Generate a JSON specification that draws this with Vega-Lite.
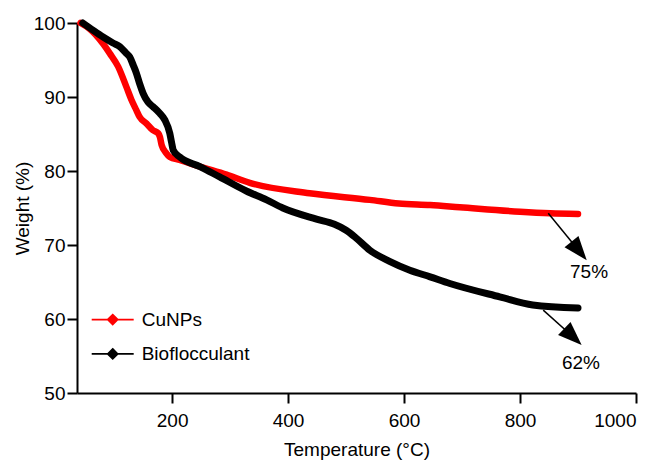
{
  "$schema": "https://vega.github.io/schema/vega-lite/v6.json",
  "width": 559,
  "height": 370,
  "autosize": "none",
  "padding": {"left": 77, "top": 23, "right": 22, "bottom": 67},
  "background": "white",
  "config": {
    "view": {"stroke": null},
    "font": "Liberation Sans",
    "axis": {
      "domainColor": "black",
      "domainWidth": 2,
      "tickColor": "black",
      "tickWidth": 2,
      "tickSize": 10,
      "grid": false,
      "labelColor": "black",
      "labelFontSize": 19,
      "titleColor": "black",
      "titleFontSize": 19,
      "titleFontWeight": "normal"
    }
  },
  "datasets": {
    "tga": [
      {"series": "CuNPs", "T": 42, "W": 100},
      {"series": "CuNPs", "T": 58, "W": 99.2},
      {"series": "CuNPs", "T": 81, "W": 97.2},
      {"series": "CuNPs", "T": 92.5, "W": 95.9},
      {"series": "CuNPs", "T": 107, "W": 94.1},
      {"series": "CuNPs", "T": 121, "W": 91.4},
      {"series": "CuNPs", "T": 130, "W": 89.6},
      {"series": "CuNPs", "T": 138.5, "W": 88.2},
      {"series": "CuNPs", "T": 144, "W": 87.3},
      {"series": "CuNPs", "T": 156, "W": 86.4},
      {"series": "CuNPs", "T": 167, "W": 85.5},
      {"series": "CuNPs", "T": 176, "W": 85.1},
      {"series": "CuNPs", "T": 179, "W": 84.6},
      {"series": "CuNPs", "T": 182, "W": 83.5},
      {"series": "CuNPs", "T": 190, "W": 82.4},
      {"series": "CuNPs", "T": 196, "W": 81.9},
      {"series": "CuNPs", "T": 213, "W": 81.5},
      {"series": "CuNPs", "T": 248, "W": 80.6},
      {"series": "CuNPs", "T": 294, "W": 79.5},
      {"series": "CuNPs", "T": 334, "W": 78.4},
      {"series": "CuNPs", "T": 437, "W": 77.0},
      {"series": "CuNPs", "T": 541, "W": 76.1},
      {"series": "CuNPs", "T": 591, "W": 75.6},
      {"series": "CuNPs", "T": 645, "W": 75.4},
      {"series": "CuNPs", "T": 696, "W": 75.1},
      {"series": "CuNPs", "T": 800, "W": 74.5},
      {"series": "CuNPs", "T": 852, "W": 74.3},
      {"series": "CuNPs", "T": 900, "W": 74.2},
      {"series": "Bioflocculant", "T": 46, "W": 100},
      {"series": "Bioflocculant", "T": 64, "W": 99.0},
      {"series": "Bioflocculant", "T": 81, "W": 98.1},
      {"series": "Bioflocculant", "T": 98, "W": 97.3},
      {"series": "Bioflocculant", "T": 110, "W": 96.8},
      {"series": "Bioflocculant", "T": 121, "W": 95.9},
      {"series": "Bioflocculant", "T": 127, "W": 95.4},
      {"series": "Bioflocculant", "T": 133, "W": 94.3},
      {"series": "Bioflocculant", "T": 138.5, "W": 93.2},
      {"series": "Bioflocculant", "T": 144, "W": 91.8},
      {"series": "Bioflocculant", "T": 150, "W": 90.5},
      {"series": "Bioflocculant", "T": 158.6, "W": 89.3},
      {"series": "Bioflocculant", "T": 167, "W": 88.7},
      {"series": "Bioflocculant", "T": 178.7, "W": 87.8},
      {"series": "Bioflocculant", "T": 187.4, "W": 86.9},
      {"series": "Bioflocculant", "T": 196, "W": 85.1},
      {"series": "Bioflocculant", "T": 199, "W": 83.9},
      {"series": "Bioflocculant", "T": 202, "W": 82.8},
      {"series": "Bioflocculant", "T": 213, "W": 81.9},
      {"series": "Bioflocculant", "T": 248, "W": 80.6},
      {"series": "Bioflocculant", "T": 282, "W": 79.2},
      {"series": "Bioflocculant", "T": 328, "W": 77.3},
      {"series": "Bioflocculant", "T": 363, "W": 76.1},
      {"series": "Bioflocculant", "T": 391, "W": 75.0},
      {"series": "Bioflocculant", "T": 449, "W": 73.5},
      {"series": "Bioflocculant", "T": 480, "W": 72.8},
      {"series": "Bioflocculant", "T": 500, "W": 72.0},
      {"series": "Bioflocculant", "T": 518, "W": 70.9},
      {"series": "Bioflocculant", "T": 541, "W": 69.3},
      {"series": "Bioflocculant", "T": 575, "W": 67.8},
      {"series": "Bioflocculant", "T": 610, "W": 66.6},
      {"series": "Bioflocculant", "T": 645, "W": 65.7},
      {"series": "Bioflocculant", "T": 679, "W": 64.8},
      {"series": "Bioflocculant", "T": 765, "W": 63.0},
      {"series": "Bioflocculant", "T": 822, "W": 61.9},
      {"series": "Bioflocculant", "T": 900, "W": 61.5}
    ],
    "arrows": [
      {"key": "CuNPs", "T": 848.7, "W": 74.3, "T2": 901.9, "W2": 69.2, "labelT": 919, "labelW": 66.3, "label": "75%"},
      {"key": "Bioflocculant", "T": 840, "W": 61.2, "T2": 891.3, "W2": 57.6, "labelT": 905, "labelW": 54.1, "label": "62%"}
    ]
  },
  "encoding": {
    "x": {
      "field": "T",
      "type": "quantitative",
      "scale": {"domain": [36, 1000], "nice": false, "zero": false},
      "axis": {"title": "Temperature (°C)", "values": [200, 400, 600, 800, 1000], "format": "d", "labelPadding": 8, "titlePadding": 10}
    },
    "y": {
      "field": "W",
      "type": "quantitative",
      "scale": {"domain": [50, 100], "nice": false, "zero": false},
      "axis": {"title": "Weight (%)", "values": [50, 60, 70, 80, 90, 100], "labelPadding": 2, "titlePadding": 1}
    }
  },
  "layer": [
    {
      "data": {"name": "tga"},
      "transform": [{"filter": "datum.series === 'CuNPs'"}],
      "mark": {"type": "line", "strokeWidth": 6.5, "strokeCap": "round", "strokeJoin": "round", "interpolate": "monotone"},
      "encoding": {
        "color": {
          "field": "series",
          "type": "nominal",
          "scale": {"domain": ["CuNPs", "Bioflocculant"], "range": ["#ff0000", "#000000"]},
          "legend": {
            "title": null,
            "orient": "none",
            "legendX": 24.7,
            "legendY": 285.6,
            "padding": 0,
            "symbolType": "M-2.1,0L2.1,0M0,-0.5L0.5,0L0,0.5L-0.5,0Z",
            "symbolSize": 400,
            "symbolStrokeWidth": 1.7,
            "labelFontSize": 19,
            "labelColor": "black",
            "labelOffset": 18,
            "rowPadding": 13.3,
            "encode": {
              "symbols": {
                "update": {
                  "fill": {"scale": "color", "field": "value"},
                  "stroke": {"scale": "color", "field": "value"},
                  "opacity": {"value": 1}
                }
              }
            }
          }
        }
      }
    },
    {
      "data": {"name": "tga"},
      "transform": [{"filter": "datum.series === 'Bioflocculant'"}],
      "mark": {"type": "line", "strokeWidth": 7, "strokeCap": "round", "strokeJoin": "round", "interpolate": "monotone"},
      "encoding": {
        "color": {"field": "series", "type": "nominal"}
      }
    },
    {
      "data": {"name": "arrows"},
      "mark": {"type": "rule", "color": "black", "strokeWidth": 1.5},
      "encoding": {
        "x2": {"field": "T2"},
        "y2": {"field": "W2"}
      }
    },
    {
      "data": {"name": "arrows"},
      "transform": [{"filter": "datum.key === 'CuNPs'"}],
      "mark": {"type": "point", "shape": "M0,-1L0.75,1L-0.75,1Z", "filled": true, "color": "black", "opacity": 1, "size": 576, "angle": 140.6},
      "encoding": {
        "x": {"field": "T2", "type": "quantitative"},
        "y": {"field": "W2", "type": "quantitative"}
      }
    },
    {
      "data": {"name": "arrows"},
      "transform": [{"filter": "datum.key === 'Bioflocculant'"}],
      "mark": {"type": "point", "shape": "M0,-1L0.75,1L-0.75,1Z", "filled": true, "color": "black", "opacity": 1, "size": 576, "angle": 133.7},
      "encoding": {
        "x": {"field": "T2", "type": "quantitative"},
        "y": {"field": "W2", "type": "quantitative"}
      }
    },
    {
      "data": {"name": "arrows"},
      "mark": {"type": "text", "fontSize": 19, "color": "black", "align": "center", "baseline": "middle"},
      "encoding": {
        "x": {"field": "labelT", "type": "quantitative"},
        "y": {"field": "labelW", "type": "quantitative"},
        "text": {"field": "label"}
      }
    }
  ]
}
